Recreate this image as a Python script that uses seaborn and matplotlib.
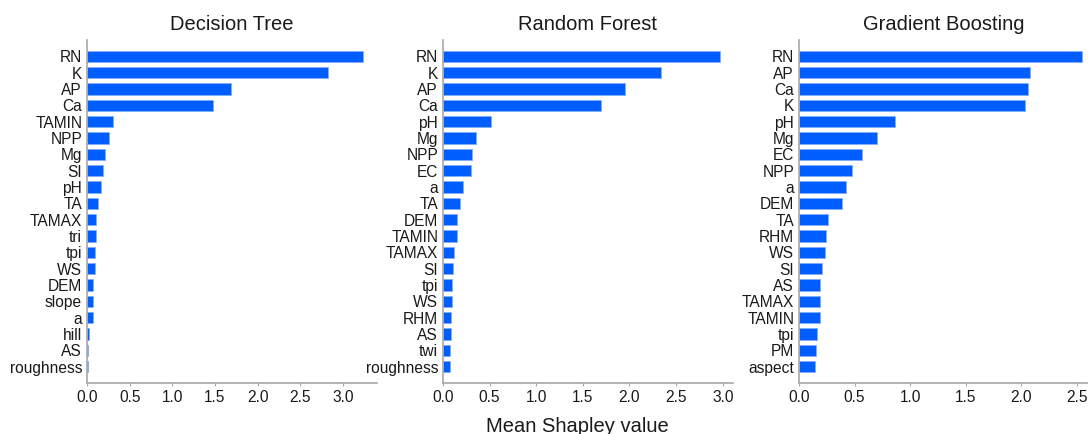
import matplotlib
matplotlib.use("Agg")
import matplotlib.pyplot as plt
import seaborn as sns
import pandas as pd

# Mean |SHAP| feature importance per model
dt_features = ["RN", "K", "AP", "Ca", "TAMIN", "NPP", "Mg", "SI", "pH", "TA",
               "TAMAX", "tri", "tpi", "WS", "DEM", "slope", "a", "hill", "AS", "roughness"]
dt_values = [3.24, 2.83, 1.69, 1.48, 0.31, 0.26, 0.21, 0.19, 0.16, 0.13,
             0.10, 0.10, 0.09, 0.09, 0.07, 0.07, 0.065, 0.02, 0.015, 0.01]

rf_features = ["RN", "K", "AP", "Ca", "pH", "Mg", "NPP", "EC", "a", "TA",
               "DEM", "TAMIN", "TAMAX", "SI", "tpi", "WS", "RHM", "AS", "twi", "roughness"]
rf_values = [2.97, 2.34, 1.95, 1.69, 0.51, 0.35, 0.31, 0.30, 0.21, 0.18,
             0.15, 0.15, 0.12, 0.11, 0.10, 0.095, 0.09, 0.09, 0.07, 0.07]

gb_features = ["RN", "AP", "Ca", "K", "pH", "Mg", "EC", "NPP", "a", "DEM",
               "TA", "RHM", "WS", "SI", "AS", "TAMAX", "TAMIN", "tpi", "PM", "aspect"]
gb_values = [2.55, 2.08, 2.06, 2.03, 0.86, 0.70, 0.57, 0.48, 0.42, 0.39,
             0.265, 0.24, 0.23, 0.21, 0.19, 0.19, 0.185, 0.16, 0.15, 0.145]

titles = ["Decision Tree", "Random Forest", "Gradient Boosting"]
x_limits = [3.40, 3.11, 2.61]
x_ticks = [[0.0, 0.5, 1.0, 1.5, 2.0, 2.5, 3.0],
           [0.0, 0.5, 1.0, 1.5, 2.0, 2.5, 3.0],
           [0.0, 0.5, 1.0, 1.5, 2.0, 2.5]]

sns.set_theme(style="white")
plt.rcParams["font.family"] = ["Liberation Sans", "DejaVu Sans"]

bar_color = "#005EFF"
text_color = "#1A1A1A"
spine_color = "#A8A8A8"

fig = plt.figure(figsize=(10.88, 4.34), dpi=100)
lefts = [87 / 1088, 443 / 1088, 799 / 1088]
width = 290 / 1088
bottom = 51 / 434
height = 343 / 434

datasets = [(dt_features, dt_values), (rf_features, rf_values), (gb_features, gb_values)]

for i, (feats, vals) in enumerate(datasets):
    ax = fig.add_axes([lefts[i], bottom, width, height])
    df = pd.DataFrame({"feature": feats, "value": vals})
    sns.barplot(data=df, x="value", y="feature", orient="h", color=bar_color,
                saturation=1, width=0.7, edgecolor="#7FAEFF", linewidth=0.6, ax=ax)
    ax.set_xlim(0, x_limits[i])
    ax.set_ylim(len(feats), -1)
    ax.set_xticks(x_ticks[i])
    ax.set_xticklabels([f"{t:.1f}" for t in x_ticks[i]])
    ax.set_xlabel("")
    ax.set_ylabel("")
    ax.set_title(titles[i], fontsize=14.5, color=text_color, pad=7)
    for side in ["top", "right"]:
        ax.spines[side].set_visible(False)
    for side in ["left", "bottom"]:
        ax.spines[side].set_color(spine_color)
        ax.spines[side].set_linewidth(1.2)
    ax.tick_params(axis="y", length=0, pad=3.5, labelsize=11.2, labelcolor=text_color)
    ax.tick_params(axis="x", length=2, width=0.8, color=spine_color, pad=3,
                   labelsize=11.2, labelcolor=text_color, bottom=True)

fig.text(577 / 1088, 17 / 434, "Mean Shapley value", ha="center", va="top",
         fontsize=14.5, color=text_color)

fig.savefig("out.png", dpi=100)
